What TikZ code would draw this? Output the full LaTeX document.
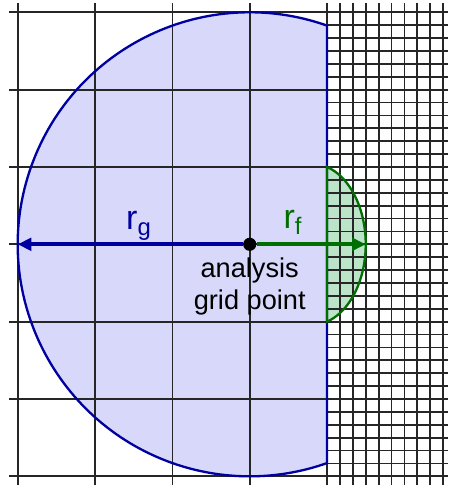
\documentclass[tikz,border=0pt]{standalone}
\usepackage{fontspec}
\setmainfont{Liberation Sans}
\usetikzlibrary{arrows.meta}
\definecolor{navy}{RGB}{0,0,160}
\definecolor{lavender}{RGB}{216,216,250}
\definecolor{leaf}{RGB}{0,110,0}
\definecolor{mint}{RGB}{188,228,200}

\begin{document}
\begin{tikzpicture}[x=1cm, y=1cm,
        gridline/.style={draw=black!85, line width=0.65pt},
        radiusarrow/.style={line width=1.5pt, -{Triangle[length=5pt, width=4.6pt]}},
        rlabel/.style={font=\fontsize{12.5}{14}\selectfont, inner sep=0pt, anchor=base}]
    \useasboundingbox (-3.229,-3.138) rectangle (2.564,3.159);
    % filled regions
    \fill[lavender] (1,2.828) arc[start angle=70.53, end angle=289.47, radius=3] -- cycle;
    \fill[mint] (1,1) arc[start angle=73.4, end angle=-73.4, x radius=0.7, y radius=1.0435] -- cycle;
    % coarse grid
    \foreach \x in {-3,...,1}
        \draw[gridline] (\x,-3.115) -- (\x,3.115);
    \foreach \y in {-3,...,3}
        \draw[gridline] (-3.115,\y) -- (2.564,\y);
    % fine grid
    \foreach \k in {1,...,9}
        \draw[gridline] ({1+\k/6},-3.115) -- ({1+\k/6},3.115);
    \foreach \k in {-18,...,18}
        \draw[gridline] (1,\k/6) -- (2.564,\k/6);
    % outlines
    \draw[navy, line width=0.85pt] (1,2.828) arc[start angle=70.53, end angle=289.47, radius=3] -- cycle;
    \draw[leaf, line width=0.85pt] (1,1) arc[start angle=73.4, end angle=-73.4, x radius=0.7, y radius=1.0435] -- cycle;
    % radii
    \node[circle, fill=black, inner sep=0pt, minimum size=0.17cm] (gp) at (0,0) {};
    \coordinate (rgend) at (-3,0);
    \coordinate (rfend) at (1.5,0);
    \draw[radiusarrow, navy] (gp) -- (rgend);
    \draw[radiusarrow, leaf] (gp) -- (rfend);
    \node[rlabel, navy] (rg) at (-1.438,0.194) {r\raisebox{-2.2pt}{\fontsize{8.8}{9}\selectfont g}};
    \node[rlabel, leaf] (rf) at (0.553,0.21) {r\raisebox{-2.2pt}{\fontsize{8.8}{9}\selectfont f}};
    \node[align=center, inner sep=0pt, anchor=north, font=\fontsize{10}{11.8}\selectfont] (gplbl) at (0,-0.169) {analysis\\grid point};
\end{tikzpicture}
\end{document}
